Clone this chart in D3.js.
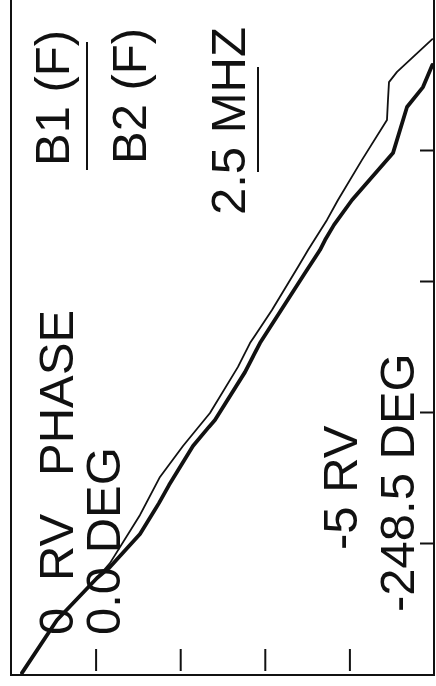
<!DOCTYPE html>
<html>
<head>
<meta charset="utf-8">
<script src="https://cdn.jsdelivr.net/npm/d3@7"></script>
<style>
  html, body { margin: 0; padding: 0; background: #fff; overflow: hidden; }
  svg { display: block; }
</style>
</head>
<body>
<svg id="chart" width="436" height="686"></svg>
<script>
// Phase of B1(F)/B2(F) versus frequency, two sweeps (MHz, phase in RV units; 5 RV = 248.5 deg)
const sweep1Freq  = [0.008, 0.210, 0.370, 0.427, 0.611, 0.756, 0.874, 1.000, 1.176, 1.267, 1.393, 1.557, 1.622, 1.737, 1.813, 1.966, 2.118, 2.195, 2.263, 2.302, 2.427];
const sweep1Phase = [-0.13, -0.544, -1.017, -1.170, -1.525, -1.761, -2.033, -2.352, -2.683, -2.825, -3.085, -3.392, -3.511, -3.735, -3.865, -4.149, -4.444, -4.456, -4.468, -4.563, -4.98];

const sweep2Freq  = [0.008, 0.210, 0.370, 0.412, 0.538, 0.656, 0.725, 0.874, 0.947, 0.973, 1.156, 1.267, 1.534, 1.622, 1.660, 1.718, 1.813, 1.992, 2.168, 2.244, 2.328];
const sweep2Phase = [-0.13, -0.544, -1.017, -1.170, -1.525, -1.749, -1.868, -2.151, -2.340, -2.411, -2.766, -2.943, -3.475, -3.652, -3.712, -3.818, -4.031, -4.515, -4.681, -4.870, -4.98];

const freqTicks  = [0.5, 1.0, 1.5, 2.0];
const phaseTicks = [-1, -2, -3, -4];

const W = 436, H = 686;          // page size

const svg = d3.select("#chart");
// the plot is drawn sideways: its frequency axis runs up the page
const g = svg.append("g").attr("transform", `translate(0,${H}) rotate(-90)`);

const x = d3.scaleLinear().domain([0, 2.5]).range([11, 11 + 2.5 * 262]);
const y = d3.scaleLinear().domain([0, -5]).range([11, 434]);

const ink = "#111";
const font = "'Liberation Sans', Arial, Helvetica, sans-serif";

// frame (far end runs past the page)
g.append("rect")
  .attr("x", x(0)).attr("y", y(0))
  .attr("width", x(2.9) - x(0)).attr("height", y(-5) - y(0))
  .attr("fill", "none").attr("stroke", ink).attr("stroke-width", 2);

// frequency ticks on the lower edge, pointing inward
const xAxis = g.append("g").attr("transform", `translate(0,${y(-5)})`)
  .call(d3.axisBottom(x).tickValues(freqTicks).tickSize(-14).tickFormat(""));
xAxis.select(".domain").remove();
xAxis.selectAll(".tick line").attr("stroke", ink).attr("stroke-width", 2);

// phase ticks near the left edge, detached from the frame
const yAxis = g.append("g").attr("transform", `translate(${x(0) + 4},0)`)
  .call(d3.axisRight(y).tickValues(phaseTicks).tickSize(22).tickFormat(""));
yAxis.select(".domain").remove();
yAxis.selectAll(".tick line").attr("stroke", ink).attr("stroke-width", 2);

// traces, clipped to the frame
g.append("clipPath").attr("id", "plotClip")
  .append("rect").attr("x", x(0)).attr("y", y(0))
  .attr("width", x(2.9) - x(0)).attr("height", y(-5) - y(0));

const line = d3.line().x(d => x(d[0])).y(d => y(d[1]));
const s1 = d3.zip(sweep1Freq, sweep1Phase);
const s2 = d3.zip(sweep2Freq, sweep2Phase);

g.append("path").datum(s2).attr("d", line)
  .attr("clip-path", "url(#plotClip)")
  .attr("fill", "none").attr("stroke", ink).attr("stroke-width", 3.8)
  .attr("stroke-linejoin", "round").attr("stroke-linecap", "round");
g.append("path").datum(s1).attr("d", line)
  .attr("clip-path", "url(#plotClip)")
  .attr("fill", "none").attr("stroke", ink).attr("stroke-width", 1.8)
  .attr("stroke-linejoin", "round").attr("stroke-linecap", "round");

// annotations
const labels = [
  { t: "0",          x: 51,  y: 73 },
  { t: "RV",         x: 105, y: 73 },
  { t: "PHASE",      x: 210, y: 73 },
  { t: "0.0 DEG",    x: 51,  y: 120 },
  { t: "-5 RV",      x: 136, y: 357 },
  { t: "-248.5 DEG", x: 74,  y: 414 },
  { t: "B1 (F)",     x: 520, y: 69 },
  { t: "B2 (F)",     x: 522, y: 146 },
  { t: "2.5 MHZ",    x: 471, y: 245 }
];
g.selectAll("text.lbl").data(labels).join("text")
  .attr("class", "lbl")
  .attr("x", d => d.x).attr("y", d => d.y)
  .attr("font-family", font).attr("font-size", 49)
  .attr("fill", ink)
  .text(d => d.t);

// fraction bar and underline
g.append("line").attr("x1", 516).attr("x2", 644).attr("y1", 87).attr("y2", 87)
  .attr("stroke", ink).attr("stroke-width", 2);
g.append("line").attr("x1", 514).attr("x2", 619).attr("y1", 258).attr("y2", 258)
  .attr("stroke", ink).attr("stroke-width", 2);
</script>
</body>
</html>
